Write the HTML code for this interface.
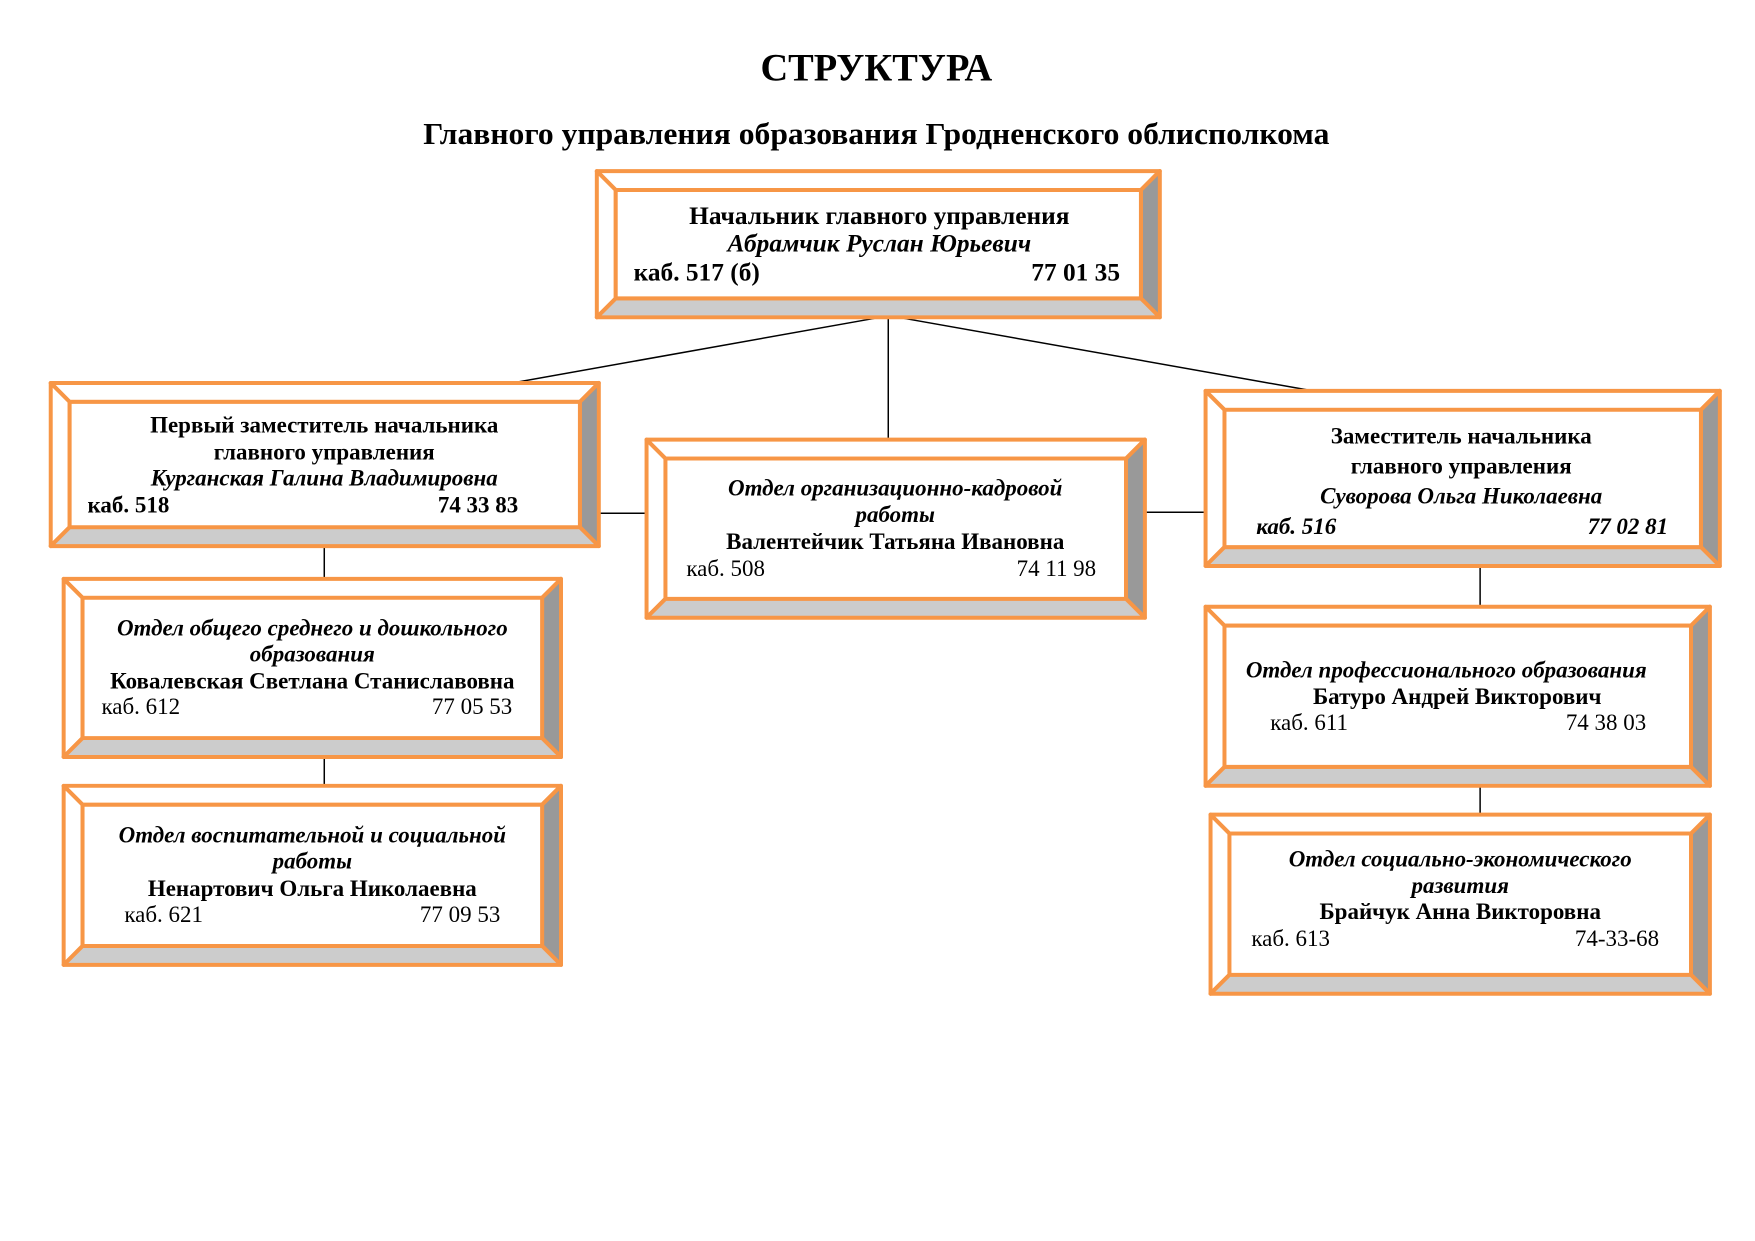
<!DOCTYPE html>
<html><head><meta charset="utf-8"><style>
html,body{margin:0;padding:0;background:#fff;}
svg{display:block;}
text{font-family:"Liberation Serif","Noto Serif CJK SC",serif;fill:#000;}
.b{font-weight:bold;}
.bi{font-weight:bold;font-style:italic;}
.r{font-weight:normal;}
.o{stroke:#F79646;stroke-width:4;stroke-linejoin:round;}
.ln{stroke:#000;stroke-width:1.5;fill:none;}
</style></head><body>
<svg width="1755" height="1241" viewBox="0 0 1755 1241" xmlns="http://www.w3.org/2000/svg">
<rect width="1755" height="1241" fill="#fff"/>
<g transform="scale(0.9947)">

<text x="881" y="81" text-anchor="middle" class="b" font-size="39" textLength="233" lengthAdjust="spacingAndGlyphs">СТРУКТУРА</text>
<text x="881" y="145" text-anchor="middle" class="b" font-size="31" textLength="911" lengthAdjust="spacingAndGlyphs">Главного управления образования Гродненского облисполкома</text>

<!-- connectors -->
<line class="ln" x1="893" y1="319" x2="893" y2="442"/>
<line class="ln" x1="885" y1="319" x2="515" y2="385"/>
<line class="ln" x1="903" y1="319" x2="1320" y2="393"/>
<line class="ln" x1="602" y1="516" x2="650" y2="516"/>
<line class="ln" x1="1151" y1="515" x2="1212" y2="515"/>
<line class="ln" x1="326" y1="549" x2="326" y2="582"/>
<line class="ln" x1="326" y1="761" x2="326" y2="790"/>
<line class="ln" x1="1488" y1="569" x2="1488" y2="610"/>
<line class="ln" x1="1488" y1="790" x2="1488" y2="819"/>

<!-- Box1 -->
<g class="o">
<polygon points="600,172 1166,172 1147,191 619,191" fill="#fff"/>
<polygon points="600,172 619,191 619,300 600,319" fill="#fff"/>
<polygon points="1166,172 1166,319 1147,300 1147,191" fill="#999"/>
<polygon points="600,319 1166,319 1147,300 619,300" fill="#ccc"/>
<rect x="619" y="191" width="528" height="109" fill="#fff"/>
</g>
<text x="884" y="225" text-anchor="middle" class="b" font-size="25.5">Начальник главного управления</text>
<text x="884" y="253" text-anchor="middle" class="bi" font-size="25.5">Абрамчик Руслан Юрьевич</text>
<text x="637" y="282" class="b" font-size="25.5">каб. 517 (б)</text>
<text x="1126" y="282" text-anchor="end" class="b" font-size="25.5">77 01 35</text>

<!-- Box2 -->
<g class="o">
<polygon points="51,385 602,385 583,404 70,404" fill="#fff"/>
<polygon points="51,385 70,404 70,530 51,549" fill="#fff"/>
<polygon points="602,385 602,549 583,530 583,404" fill="#999"/>
<polygon points="51,549 602,549 583,530 70,530" fill="#ccc"/>
<rect x="70" y="404" width="513" height="126" fill="#fff"/>
</g>
<text x="326" y="435" text-anchor="middle" class="b" font-size="23.1">Первый заместитель начальника</text>
<text x="326" y="462" text-anchor="middle" class="b" font-size="23.1">главного управления</text>
<text x="326" y="488" text-anchor="middle" class="bi" font-size="23.1">Курганская Галина Владимировна</text>
<text x="88" y="515" class="b" font-size="23.1">каб. 518</text>
<text x="521" y="515" text-anchor="end" class="b" font-size="23.1">74 33 83</text>

<!-- Box3 -->
<g class="o">
<polygon points="650,442 1151,442 1132,461 669,461" fill="#fff"/>
<polygon points="650,442 669,461 669,602 650,621" fill="#fff"/>
<polygon points="1151,442 1151,621 1132,602 1132,461" fill="#999"/>
<polygon points="650,621 1151,621 1132,602 669,602" fill="#ccc"/>
<rect x="669" y="461" width="463" height="141" fill="#fff"/>
</g>
<text x="900" y="498" text-anchor="middle" class="bi" font-size="23.1">Отдел организационно-кадровой</text>
<text x="900" y="525" text-anchor="middle" class="bi" font-size="23.1">работы</text>
<text x="900" y="552" text-anchor="middle" class="b" font-size="23.1">Валентейчик Татьяна Ивановна</text>
<text x="690" y="579" class="r" font-size="23.1">каб. 508</text>
<text x="1102" y="579" text-anchor="end" class="r" font-size="23.1">74 11 98</text>

<!-- Box4 -->
<g class="o">
<polygon points="1212,393 1729,393 1710,412 1231,412" fill="#fff"/>
<polygon points="1212,393 1231,412 1231,550 1212,569" fill="#fff"/>
<polygon points="1729,393 1729,569 1710,550 1710,412" fill="#999"/>
<polygon points="1212,569 1729,569 1710,550 1231,550" fill="#ccc"/>
<rect x="1231" y="412" width="479" height="138" fill="#fff"/>
</g>
<text x="1469" y="446" text-anchor="middle" class="b" font-size="23.1">Заместитель начальника</text>
<text x="1469" y="476" text-anchor="middle" class="b" font-size="23.1">главного управления</text>
<text x="1469" y="506" text-anchor="middle" class="bi" font-size="23.1">Суворова Ольга Николаевна</text>
<text x="1263" y="537" class="bi" font-size="23.1">каб. 516</text>
<text x="1677" y="537" text-anchor="end" class="bi" font-size="23.1">77 02 81</text>

<!-- Box5 -->
<g class="o">
<polygon points="64,582 564,582 545,601 83,601" fill="#fff"/>
<polygon points="64,582 83,601 83,742 64,761" fill="#fff"/>
<polygon points="564,582 564,761 545,742 545,601" fill="#999"/>
<polygon points="64,761 564,761 545,742 83,742" fill="#ccc"/>
<rect x="83" y="601" width="462" height="141" fill="#fff"/>
</g>
<text x="314" y="639" text-anchor="middle" class="bi" font-size="23.1">Отдел общего среднего и дошкольного</text>
<text x="314" y="665" text-anchor="middle" class="bi" font-size="23.1">образования</text>
<text x="314" y="692" text-anchor="middle" class="b" font-size="23.1">Ковалевская Светлана Станиславовна</text>
<text x="102" y="718" class="r" font-size="23.1">каб. 612</text>
<text x="515" y="718" text-anchor="end" class="r" font-size="23.1">77 05 53</text>

<!-- Box6 -->
<g class="o">
<polygon points="64,790 564,790 545,809 83,809" fill="#fff"/>
<polygon points="64,790 83,809 83,951 64,970" fill="#fff"/>
<polygon points="564,790 564,970 545,951 545,809" fill="#999"/>
<polygon points="64,970 564,970 545,951 83,951" fill="#ccc"/>
<rect x="83" y="809" width="462" height="142" fill="#fff"/>
</g>
<text x="314" y="847" text-anchor="middle" class="bi" font-size="23.1">Отдел воспитательной и социальной</text>
<text x="314" y="873" text-anchor="middle" class="bi" font-size="23.1">работы</text>
<text x="314" y="901" text-anchor="middle" class="b" font-size="23.1">Ненартович Ольга Николаевна</text>
<text x="125" y="927" class="r" font-size="23.1">каб. 621</text>
<text x="503" y="927" text-anchor="end" class="r" font-size="23.1">77 09 53</text>

<!-- Box7 -->
<g class="o">
<polygon points="1212,610 1719,610 1700,629 1231,629" fill="#fff"/>
<polygon points="1212,610 1231,629 1231,771 1212,790" fill="#fff"/>
<polygon points="1719,610 1719,790 1700,771 1700,629" fill="#999"/>
<polygon points="1212,790 1719,790 1700,771 1231,771" fill="#ccc"/>
<rect x="1231" y="629" width="469" height="142" fill="#fff"/>
</g>
<text x="1454" y="681" text-anchor="middle" class="bi" font-size="23.1">Отдел профессионального образования</text>
<text x="1465" y="708" text-anchor="middle" class="b" font-size="23.1">Батуро Андрей Викторович</text>
<text x="1277" y="734" class="r" font-size="23.1">каб. 611</text>
<text x="1655" y="734" text-anchor="end" class="r" font-size="23.1">74 38 03</text>

<!-- Box8 -->
<g class="o">
<polygon points="1217,819 1719,819 1700,838 1236,838" fill="#fff"/>
<polygon points="1217,819 1236,838 1236,980 1217,999" fill="#fff"/>
<polygon points="1719,819 1719,999 1700,980 1700,838" fill="#999"/>
<polygon points="1217,999 1719,999 1700,980 1236,980" fill="#ccc"/>
<rect x="1236" y="838" width="464" height="142" fill="#fff"/>
</g>
<text x="1468" y="871" text-anchor="middle" class="bi" font-size="23.1">Отдел социально-экономического</text>
<text x="1468" y="898" text-anchor="middle" class="bi" font-size="23.1">развития</text>
<text x="1468" y="924" text-anchor="middle" class="b" font-size="23.1">Брайчук Анна Викторовна</text>
<text x="1258" y="951" class="r" font-size="23.1">каб. 613</text>
<text x="1668" y="951" text-anchor="end" class="r" font-size="23.1">74-33-68</text>
</g>
</svg>
</body></html>
